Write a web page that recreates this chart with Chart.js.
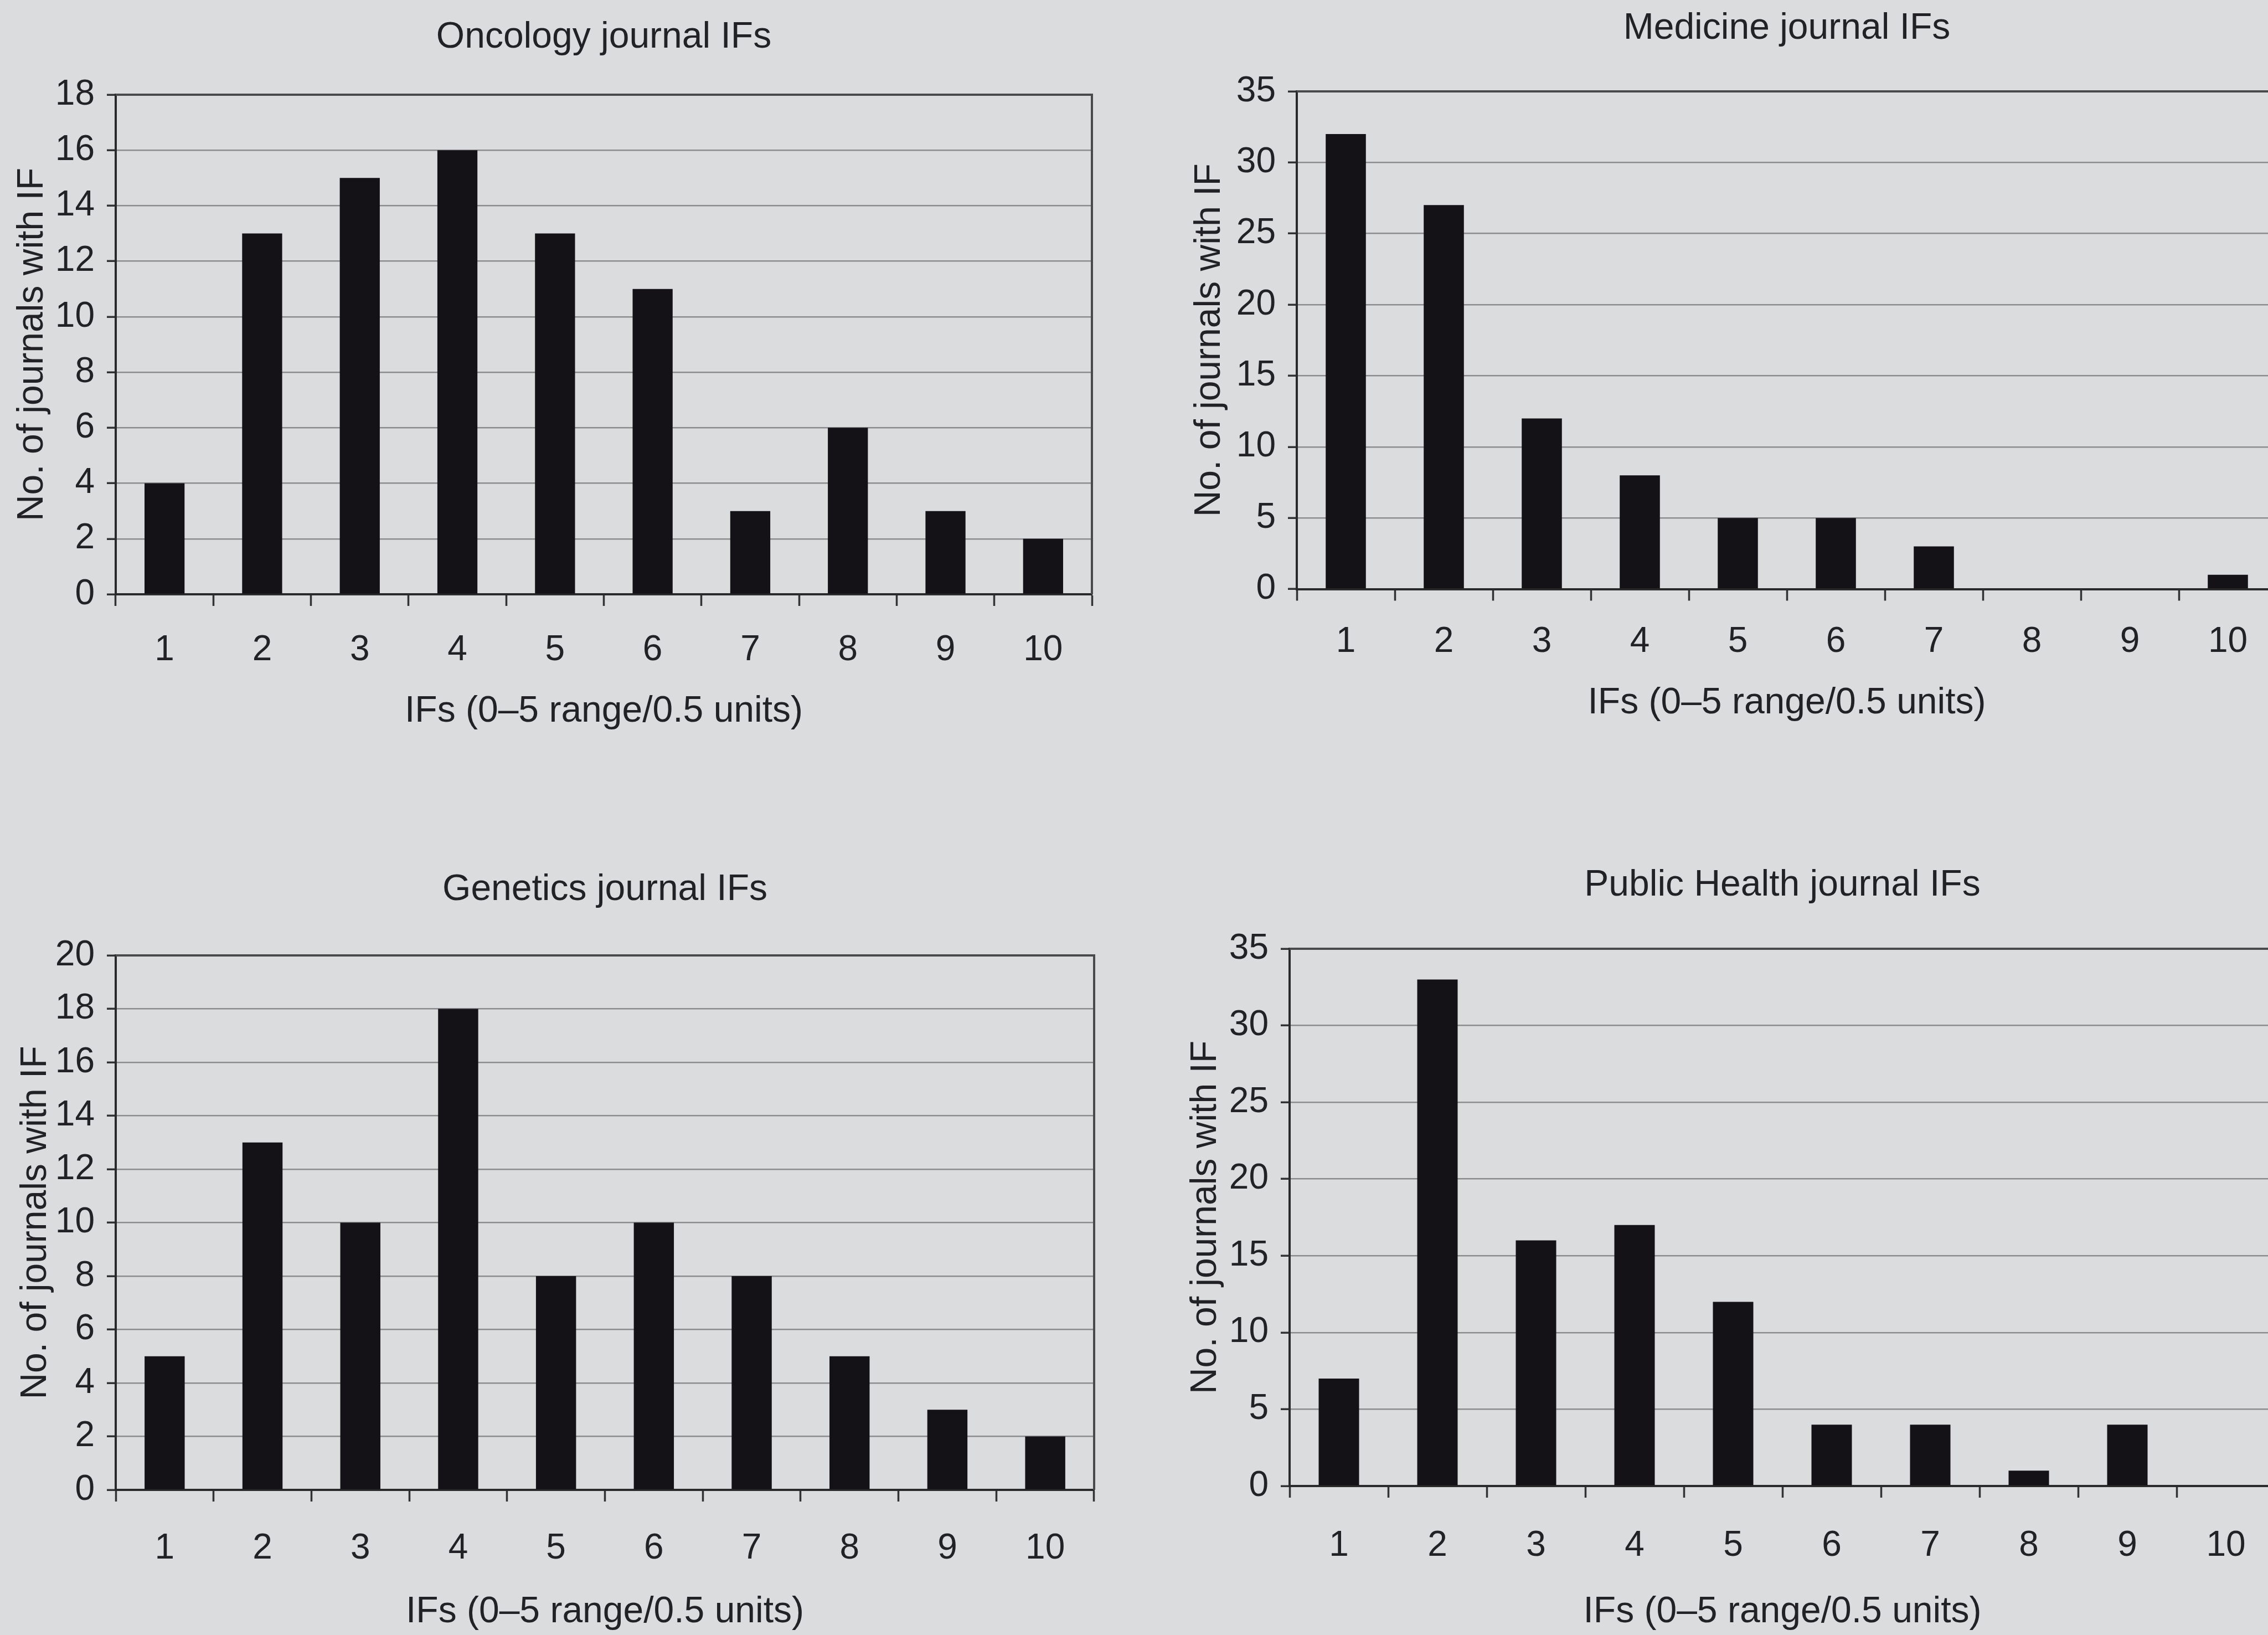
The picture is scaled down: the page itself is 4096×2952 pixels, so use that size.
<!DOCTYPE html>
<html lang="en">
<head>
  <meta charset="UTF-8">
  <title>Journal IF histograms</title>
  <script src="https://cdn.jsdelivr.net/npm/chart.js"></script>
  <style>
    html, body { margin: 0; padding: 0; width: 4096px; height: 2952px; overflow: hidden; background: #dadcdd; }
    canvas { position: absolute; }
  </style>
</head>
<body>
  <canvas id="chartOncology"></canvas>
  <canvas id="chartMedicine"></canvas>
  <canvas id="chartGenetics"></canvas>
  <canvas id="chartPublicHealth"></canvas>

  <script>
    // data
    const categories = ['1', '2', '3', '4', '5', '6', '7', '8', '9', '10'];
    const oncologyCounts = [4, 13, 15, 16, 13, 11, 3, 6, 3, 2];
    const medicineCounts = [32, 27, 12, 8, 5, 5, 3, 0, 0, 1];
    const geneticsCounts = [5, 13, 10, 18, 8, 10, 8, 5, 3, 2];
    const publicHealthCounts = [7, 33, 16, 17, 12, 4, 4, 1, 4, 0];
    const yMaxes = { oncology: 18, medicine: 35, genetics: 20, publicHealth: 35 };
    const ySteps = { oncology: 2, medicine: 5, genetics: 2, publicHealth: 5 };
    const titles = {
      oncology: 'Oncology journal IFs',
      medicine: 'Medicine journal IFs',
      genetics: 'Genetics journal IFs',
      publicHealth: 'Public Health journal IFs'
    };
    const xTitle = 'IFs (0\u20135 range/0.5 units)';
    const yTitle = 'No. of journals with IF';

    Chart.defaults.font.family = "'Liberation Sans', Arial, sans-serif";
    Chart.defaults.color = '#222226';

    // top and right edge of the plot frame
    const framePlugin = {
      id: 'frame',
      afterDraw(chart) {
        const a = chart.chartArea, ctx = chart.ctx;
        ctx.save();
        ctx.strokeStyle = '#4a4a4c';
        ctx.lineWidth = 4;
        ctx.beginPath();
        ctx.moveTo(a.left, a.top);
        ctx.lineTo(a.right, a.top);
        ctx.lineTo(a.right, a.bottom);
        ctx.stroke();
        ctx.restore();
      }
    };

    function makeChart(id, key, values, g) {
      const el = document.getElementById(id);
      el.width = g.w; el.height = g.h;
      el.style.left = g.x + 'px'; el.style.top = g.y + 'px';
      el.style.width = g.w + 'px'; el.style.height = g.h + 'px';
      return new Chart(el, {
        type: 'bar',
        data: {
          labels: categories,
          datasets: [{ data: values, backgroundColor: '#141216', borderWidth: 0,
                       barPercentage: 0.41, categoryPercentage: 1 }]
        },
        options: {
          responsive: false, animation: false, devicePixelRatio: 1,
          layout: { padding: { left: 0, top: 0, right: g.padR, bottom: 0 } },
          plugins: {
            legend: { display: false },
            tooltip: { enabled: false },
            title: {
              display: true, text: titles[key], fullSize: false,
              font: { size: 66, weight: 'normal' }, color: '#222226',
              padding: { top: g.tTop, bottom: g.tBot }
            }
          },
          scales: {
            x: {
              grid: { offset: true, drawOnChartArea: false, drawTicks: true,
                      tickLength: 21, tickColor: '#333', tickWidth: 3.5 },
              border: { color: '#2a2a2a', width: 4 },
              ticks: { font: { size: 64 }, padding: g.xPad, color: '#222226' },
              title: { display: true, text: xTitle, font: { size: 66 },
                       padding: { top: 0, bottom: g.xtPad }, color: '#222226' },
              afterFit: s => { s.height = g.xH; }
            },
            y: {
              min: 0, max: yMaxes[key],
              grid: { color: '#8c8c8e', lineWidth: 2.5, tickLength: 16,
                      tickColor: '#333', tickWidth: 3.5 },
              border: { color: '#2a2a2a', width: 4 },
              ticks: { stepSize: ySteps[key], font: { size: 64 }, padding: 22, color: '#222226' },
              title: { display: true, text: yTitle, font: { size: 66 },
                       padding: { top: g.ytPad, bottom: 0 }, color: '#222226' },
              afterFit: s => { s.width = g.yW; }
            }
          }
        },
        plugins: [framePlugin]
      });
    }

    makeChart('chartOncology', 'oncology', oncologyCounts,
      { x: 0, y: 0, w: 1990, h: 1340, padR: 18, yW: 209, tTop: 28.4, tBot: 63.4,
        ytPad: 19.4, xH: 267, xPad: 41.6, xtPad: 15.4 });
    makeChart('chartGenetics', 'genetics', geneticsCounts,
      { x: 0, y: 1500, w: 1990, h: 1452, padR: 14, yW: 209, tTop: 67.4, tBot: 78.4,
        ytPad: 25.4, xH: 262, xPad: 46.6, xtPad: 1.4 });
    makeChart('chartMedicine', 'medicine', medicineCounts,
      { x: 2100, y: 0, w: 2022, h: 1330, padR: 10, yW: 242, tTop: 12.4, tBot: 73.4,
        ytPad: 45.4, xH: 266.5, xPad: 36.1, xtPad: 20.4 });
    makeChart('chartPublicHealth', 'publicHealth', publicHealthCounts,
      { x: 2100, y: 1500, w: 2019, h: 1452, padR: 10, yW: 229, tTop: 59.4, tBot: 74.4,
        ytPad: 38.4, xH: 269, xPad: 48.6, xtPad: 1.4 });
  </script>
</body>
</html>
